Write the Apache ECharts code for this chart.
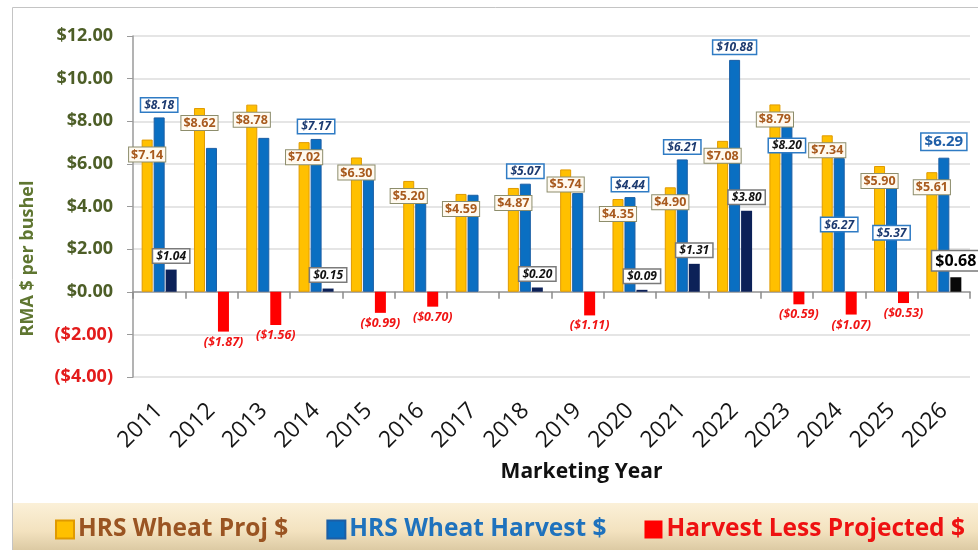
<!DOCTYPE html>
<html>
<head>
<meta charset="utf-8">
<title>HRS Wheat Projected vs Harvest Price</title>
<script src="https://cdn.jsdelivr.net/npm/echarts@6/dist/echarts.min.js"></script>
<style>
  html, body { margin: 0; padding: 0; background: #fff; }
  #wheatChart { width: 978px; height: 550px; }
</style>
</head>
<body>
<div id="wheatChart"></div>
<script>
// 数据
var years = ['2011','2012','2013','2014','2015','2016','2017','2018','2019','2020','2021','2022','2023','2024','2025','2026'];
var projPrice = [7.14, 8.62, 8.78, 7.02, 6.30, 5.20, 4.59, 4.87, 5.74, 4.35, 4.90, 7.08, 8.79, 7.34, 5.90, 5.61];
var harvestPrice = [8.18, 6.75, 7.22, 7.17, 5.31, 4.50, 4.55, 5.07, 4.63, 4.44, 6.21, 10.88, 8.20, 6.27, 5.37, 6.29];
var harvestLessProj = [1.04, -1.87, -1.56, 0.15, -0.99, -0.70, null, 0.20, -1.11, 0.09, 1.31, 3.80, -0.59, -1.07, -0.53, 0.68];
var yMin = -4, yMax = 12, yStep = 2;

(function(){
    'use strict';

    var FONT = '"Open Sans", "Liberation Sans", sans-serif';

    // harvest labels: which years hide it, which sit inside the bar (distance from top)
    var harvestNoLabel = ['2012','2013','2015','2016','2017','2019'];
    var harvestInside = { '2023': 22, '2024': 60, '2025': 49 };

    function money(v) {
        if (v < 0) return '($' + Math.abs(v).toFixed(2) + ')';
        return '$' + v.toFixed(2);
    }

    //---------------------------------------------------------------------
    // 柱子数据
    var projData = projPrice.map(function(v){ return { value: v }; });

    var harvestData = harvestPrice.map(function(v, i){
        var y = years[i];
        var item = { value: v };
        if (harvestNoLabel.indexOf(y) >= 0) {
            item.label = { show: false };
        } else if (harvestInside[y] != null) {
            item.label = { position: 'insideTop', distance: harvestInside[y] };
            if (y === '2023') item.label.color = '#141414';
        } else if (y === '2026') {
            item.label = { fontStyle: 'normal', fontSize: 15, color: '#1f5fa8', distance: 8 };
        }
        return item;
    });

    var diffData = harvestLessProj.map(function(v, i){
        if (v == null) return { value: null };
        var item = { value: v };
        if (v >= 0) {
            item.itemStyle = { color: years[i] === '2026' ? '#080808' : '#0c2158' };
            if (years[i] === '2026') {
                item.label = { fontStyle: 'normal', fontSize: 16, color: '#000', padding: [2, 3, 1, 3] };
            }
        } else {
            item.label = {
                position: 'bottom', distance: 4,
                color: '#f01515', backgroundColor: 'transparent', borderWidth: 0,
                fontSize: 12.5, padding: 0
            };
        }
        return item;
    });

    var myChart = echarts.init(document.getElementById('wheatChart'));

    var option = {
        backgroundColor: '#ffffff',
        animation: false,
        textStyle: { fontFamily: FONT },
        graphic: [
            {
                type: 'rect', z: -20, silent: true,
                shape: { x: 12.5, y: 7.5, width: 990, height: 560 },
                style: { fill: 'none', stroke: '#c4c4c4', lineWidth: 1 }
            },
            {
                type: 'rect', z: -10, silent: true,
                shape: { x: 13, y: 503, width: 965, height: 47 },
                style: {
                    fill: new echarts.graphic.LinearGradient(0, 0, 0, 1, [
                        { offset: 0, color: '#fbf0d8' },
                        { offset: 0.6, color: '#f3e2bf' },
                        { offset: 1, color: '#dccaa3' }
                    ])
                }
            }
        ],
        legend: {
            left: 55,
            top: 517,
            padding: 0,
            itemGap: 38,
            itemWidth: 18,
            itemHeight: 18,
            icon: 'rect',
            textStyle: { fontFamily: FONT, fontSize: 24.5, fontWeight: 'bold', padding: [0, 0, 0, -1] },
            data: [
                { name: 'HRS Wheat Proj $', textStyle: { color: '#9a5422' } },
                { name: 'HRS Wheat Harvest $', textStyle: { color: '#1f72bd' } },
                { name: 'Harvest Less Projected $', textStyle: { color: '#ee1111' } }
            ]
        },
        grid: {
            left: 133,
            right: 8,
            top: 36,
            bottom: 173
        },
        xAxis: [
            {
                type: 'category',
                data: years,
                position: 'bottom',
                axisLine: { show: false, onZero: false },
                axisTick: { show: false },
                axisLabel: {
                    rotate: 45,
                    margin: 30,
                    fontSize: 23,
                    color: '#151515',
                    fontFamily: FONT
                },
                name: 'Marketing Year',
                nameLocation: 'middle',
                nameGap: 85,
                nameTextStyle: {
                    fontSize: 21, fontWeight: 'bold', color: '#111',
                    fontFamily: FONT, padding: [0, 0, 0, 60]
                }
            },
            {
                // 零线 + 刻度
                type: 'category',
                data: years,
                position: 'bottom',
                axisLine: { show: true, onZero: true, lineStyle: { color: '#9a9a9a', width: 1.5 } },
                axisTick: { show: true, length: 7, lineStyle: { color: '#8a8a8a', width: 1.5 } },
                axisLabel: { show: false },
                splitLine: { show: false }
            }
        ],
        yAxis: {
            type: 'value',
            min: yMin,
            max: yMax,
            interval: yStep,
            name: 'RMA $ per bushel',
            nameLocation: 'middle',
            nameGap: 96,
            nameTextStyle: {
                fontSize: 18, fontWeight: 'bold', color: '#5f7631',
                fontFamily: FONT, padding: [0, 104, 0, 0]
            },
            axisLine: { show: true, lineStyle: { color: '#9a9a9a', width: 1.5 } },
            axisTick: { show: true, length: 6, lineStyle: { color: '#9a9a9a' } },
            splitLine: { lineStyle: { color: '#dcdcdc', width: 1.5 } },
            axisLabel: {
                margin: 20,
                formatter: function(v){
                    return v < 0 ? '{neg|' + money(v) + '}' : '{pos|' + money(v) + '}';
                },
                rich: {
                    pos: { fontSize: 18, fontWeight: 'bold', color: '#4d5e27', fontFamily: FONT },
                    neg: { fontSize: 18, fontWeight: 'bold', color: '#e31b1b', fontFamily: FONT }
                }
            }
        },
        series: [
            {
                name: 'HRS Wheat Proj $',
                type: 'bar',
                barWidth: 11,
                barGap: '9%',
                itemStyle: { color: '#ffc000', borderColor: '#e09a00', borderWidth: 1 },
                label: {
                    show: true,
                    position: 'insideTop',
                    distance: 8,
                    formatter: function(p){ return money(p.value); },
                    fontSize: 12.5,
                    fontWeight: 'bold',
                    fontFamily: FONT,
                    color: '#a85a1e',
                    backgroundColor: '#fffaf0',
                    borderColor: '#8d8d6c',
                    borderWidth: 1,
                    padding: [1, 2, 0, 2]
                },
                data: projData
            },
            {
                name: 'HRS Wheat Harvest $',
                type: 'bar',
                barWidth: 11,
                barGap: '9%',
                itemStyle: { color: '#0a6fc2', borderColor: '#1c5fa5', borderWidth: 1 },
                label: {
                    show: true,
                    position: 'top',
                    distance: 6,
                    formatter: function(p){ return money(p.value); },
                    fontSize: 12,
                    fontWeight: 'bold',
                    fontStyle: 'italic',
                    fontFamily: FONT,
                    color: '#1c3a70',
                    backgroundColor: '#ffffff',
                    borderColor: '#2f7bc4',
                    borderWidth: 1.5,
                    padding: [1, 3, 0, 3]
                },
                data: harvestData
            },
            {
                name: 'Harvest Less Projected $',
                type: 'bar',
                barWidth: 11,
                barGap: '9%',
                itemStyle: { color: '#ff0000' },
                label: {
                    show: true,
                    position: 'top',
                    distance: 7,
                    formatter: function(p){ return money(p.value); },
                    fontSize: 12,
                    fontWeight: 'bold',
                    fontStyle: 'italic',
                    fontFamily: FONT,
                    color: '#111',
                    backgroundColor: '#ffffff',
                    borderColor: '#7a7a7a',
                    borderWidth: 1.5,
                    padding: [1, 3, 0, 3]
                },
                data: diffData
            }
        ]
    };

    myChart.setOption(option);
}());
</script>
</body>
</html>
